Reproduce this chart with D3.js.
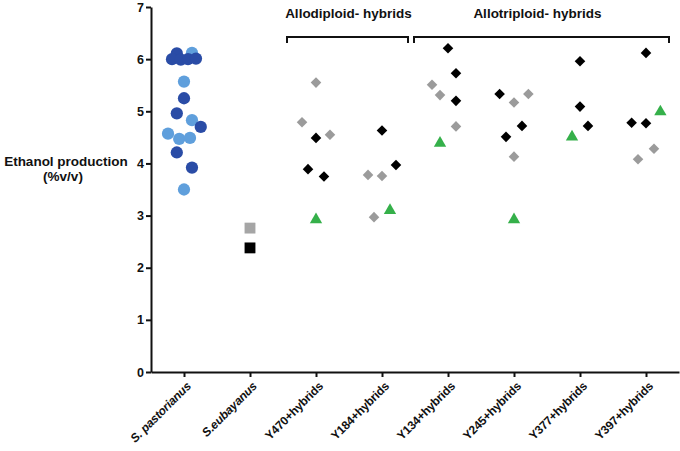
<!DOCTYPE html>
<html>
<head>
<meta charset="utf-8">
<script src="https://cdn.jsdelivr.net/npm/d3@7"></script>
<style>
  html, body { margin: 0; padding: 0; background: #fff; }
  #wrap { position: relative; width: 680px; height: 451px; }
  svg { display: block; font-family: "Liberation Sans", Arial, sans-serif; }
  .xlab { position: absolute; white-space: nowrap; font-family: "Liberation Sans", Arial, sans-serif;
          font-weight: bold; font-size: 12px; color: #111; letter-spacing: -0.2px;
          transform-origin: 100% 50%; transform: rotate(-45deg); line-height: 14px; }
</style>
</head>
<body>
<div id="wrap"><svg id="chart" width="680" height="451"></svg></div>
<script>
// ---------------- DATA ----------------
const categories = ["S. pastorianus", "S.eubayanus", "Y470+hybrids", "Y184+hybrids",
                    "Y134+hybrids", "Y245+hybrids", "Y377+hybrids", "Y397+hybrids"];
const italicCategories = ["S. pastorianus", "S.eubayanus"];
const yTicks = [0, 1, 2, 3, 4, 5, 6, 7];

// S. pastorianus strains (two shades)
const pastorianusLightValues = [6.12, 5.57, 4.83, 4.57, 4.47, 4.49, 3.50];
const pastorianusLightJitter = [1, 0, 1, -2, -0.6, 0.75, 0];
const pastorianusDarkValues  = [6.11, 6.00, 5.99, 6.00, 6.01, 5.25, 4.96, 4.70, 4.21, 3.92];
const pastorianusDarkJitter  = [-0.9, -1.5, -0.4, 0.5, 1.5, 0, -0.9, 2.1, -0.9, 1];

// S. eubayanus
const eubayanusGreyValue  = 2.76;
const eubayanusBlackValue = 2.38;

// Hybrid groups
const hybridCategories = ["Y470+hybrids", "Y184+hybrids", "Y134+hybrids",
                          "Y245+hybrids", "Y377+hybrids", "Y397+hybrids"];
const blackDiamondValues = [
  [4.49, 3.89, 3.75],
  [4.63, 3.97],
  [6.21, 5.73, 5.20],
  [5.33, 4.72, 4.51],
  [5.96, 5.09, 4.72],
  [6.12, 4.78, 4.77]
];
const blackDiamondJitter = [
  [0, -1, 1],
  [0, 1.75],
  [0, 1, 1],
  [-1.8, 1, -1],
  [0, 0, 1],
  [0, -1.8, 0]
];
const greyDiamondValues = [
  [5.55, 4.79, 4.55],
  [3.78, 3.76, 2.97],
  [5.51, 5.31, 4.71],
  [5.17, 5.33, 4.13],
  [],
  [4.08, 4.28]
];
const greyDiamondJitter = [
  [0, -1.75, 1.75],
  [-1.75, 0, -1],
  [-2, -1, 1],
  [0, 1.8, 0],
  [],
  [-1, 1]
];
const greenTriangleValues = [2.92, 3.10, 4.39, 2.92, 4.51, 4.99];
const greenTriangleJitter = [0, 1, -1, 0, -1, 1.8];

const groupLabels = ["Allodiploid- hybrids", "Allotriploid- hybrids"];
const groupSpans = [["Y470+hybrids", "Y184+hybrids"], ["Y134+hybrids", "Y397+hybrids"]];

const yTitleLines = ["Ethanol production", "(%v/v)"];

// ---------------- COLORS ----------------
const cLight = "#5f9fdc";
const cDark = "#2a4ca6";
const cGrey = "#9b9b9b";
const cBlack = "#000000";
const cGreen = "#35b04a";
const cSquareGrey = "#a5a5a5";
const FONT = "Liberation Sans, Arial, sans-serif";

// ---------------- SCALES ----------------
const svg = d3.select("#chart");
const x = d3.scalePoint().domain(categories).range([151, 679]).padding(0.5);
const y = d3.scaleLinear().domain([0, 7]).range([372, 7]);
const jx = d3.scaleLinear().domain([-1, 1]).range([-x.step() * 0.121, x.step() * 0.121]);

// ---------------- AXES ----------------
const yAxis = svg.append("g")
  .attr("transform", "translate(151,0)")
  .call(d3.axisLeft(y).tickValues(yTicks).tickFormat(d3.format("d")).tickSize(5).tickPadding(2).tickSizeOuter(0));
yAxis.select(".domain").attr("stroke-width", 2).attr("stroke", "#111");
yAxis.selectAll(".tick line").attr("stroke-width", 2).attr("stroke", "#111");
yAxis.selectAll(".tick text").attr("font-size", 12.5).attr("font-weight", "bold")
  .attr("font-family", FONT).attr("fill", "#111");

const xAxis = svg.append("g")
  .attr("transform", "translate(0,372)")
  .call(d3.axisBottom(x).tickSize(5).tickSizeOuter(0).tickFormat(""));
xAxis.select(".domain").attr("stroke-width", 2).attr("stroke", "#111");
xAxis.selectAll(".tick line").attr("stroke-width", 2).attr("stroke", "#111");

// rotated category labels as HTML, rotated with CSS around their right-middle point
d3.select("#wrap").selectAll("div.xlab")
  .data(categories)
  .join("div")
  .attr("class", "xlab")
  .style("right", d => (680 - (x(d) + 5)) + "px")
  .style("top", (384 - 7) + "px")
  .style("font-style", d => italicCategories.includes(d) ? "italic" : "normal")
  .text(d => d);

// ---------------- Y TITLE ----------------
const yTitle = svg.append("text")
  .attr("font-size", 13.5).attr("font-weight", "bold").attr("fill", "#111")
  .attr("font-family", FONT)
  .attr("text-anchor", "middle");
yTitle.selectAll("tspan").data(yTitleLines).join("tspan")
  .attr("x", (d, i) => i === 0 ? 66 : 63).attr("y", (d, i) => 166 + i * 15)
  .text(d => d);

// ---------------- MARKS ----------------
const circleSym = d3.symbol().type(d3.symbolCircle).size(118);
const squareSym = d3.symbol().type(d3.symbolSquare).size(118);
const diamondSym = d3.symbol().type(d3.symbolSquare).size(56);
const triSym = d3.symbol().type(d3.symbolTriangle).size(66);

function plot(values, jitters, cat, sym, color, rotate) {
  svg.append("g").selectAll("path")
    .data(values.map((v, i) => ({ v, j: jitters ? jitters[i] : 0 })))
    .join("path")
    .attr("d", sym)
    .attr("fill", color)
    .attr("transform", d => `translate(${x(cat) + jx(d.j)},${y(d.v)})` + (rotate ? " rotate(45)" : ""));
}

plot(pastorianusLightValues, pastorianusLightJitter, categories[0], circleSym, cLight, false);
plot(pastorianusDarkValues, pastorianusDarkJitter, categories[0], circleSym, cDark, false);

plot([eubayanusGreyValue], null, categories[1], squareSym, cSquareGrey, false);
plot([eubayanusBlackValue], null, categories[1], squareSym, cBlack, false);

hybridCategories.forEach((cat, gi) => {
  plot(greyDiamondValues[gi], greyDiamondJitter[gi], cat, diamondSym, cGrey, true);
  plot(blackDiamondValues[gi], blackDiamondJitter[gi], cat, diamondSym, cBlack, true);
  plot([greenTriangleValues[gi]], [greenTriangleJitter[gi]], cat, triSym, cGreen, false);
});

// ---------------- GROUP BRACKETS ----------------
const bracketY = 37;
const bracketOffsets = [[-29, 26], [-34, 23]];
groupLabels.forEach((lab, i) => {
  const x0 = x(groupSpans[i][0]) + bracketOffsets[i][0];
  const x1 = x(groupSpans[i][1]) + bracketOffsets[i][1];
  svg.append("path")
    .attr("d", `M${x0},${bracketY + 6}V${bracketY}H${x1}V${bracketY + 6}`)
    .attr("fill", "none").attr("stroke", "#111").attr("stroke-width", 2);
  svg.append("text")
    .attr("x", (x0 + x1) / 2 + (i === 0 ? 1 : -4)).attr("y", 18)
    .attr("text-anchor", "middle")
    .attr("font-size", 13.5).attr("font-weight", "bold").attr("fill", "#111")
    .attr("font-family", FONT)
    .text(lab);
});
</script>
</body>
</html>
